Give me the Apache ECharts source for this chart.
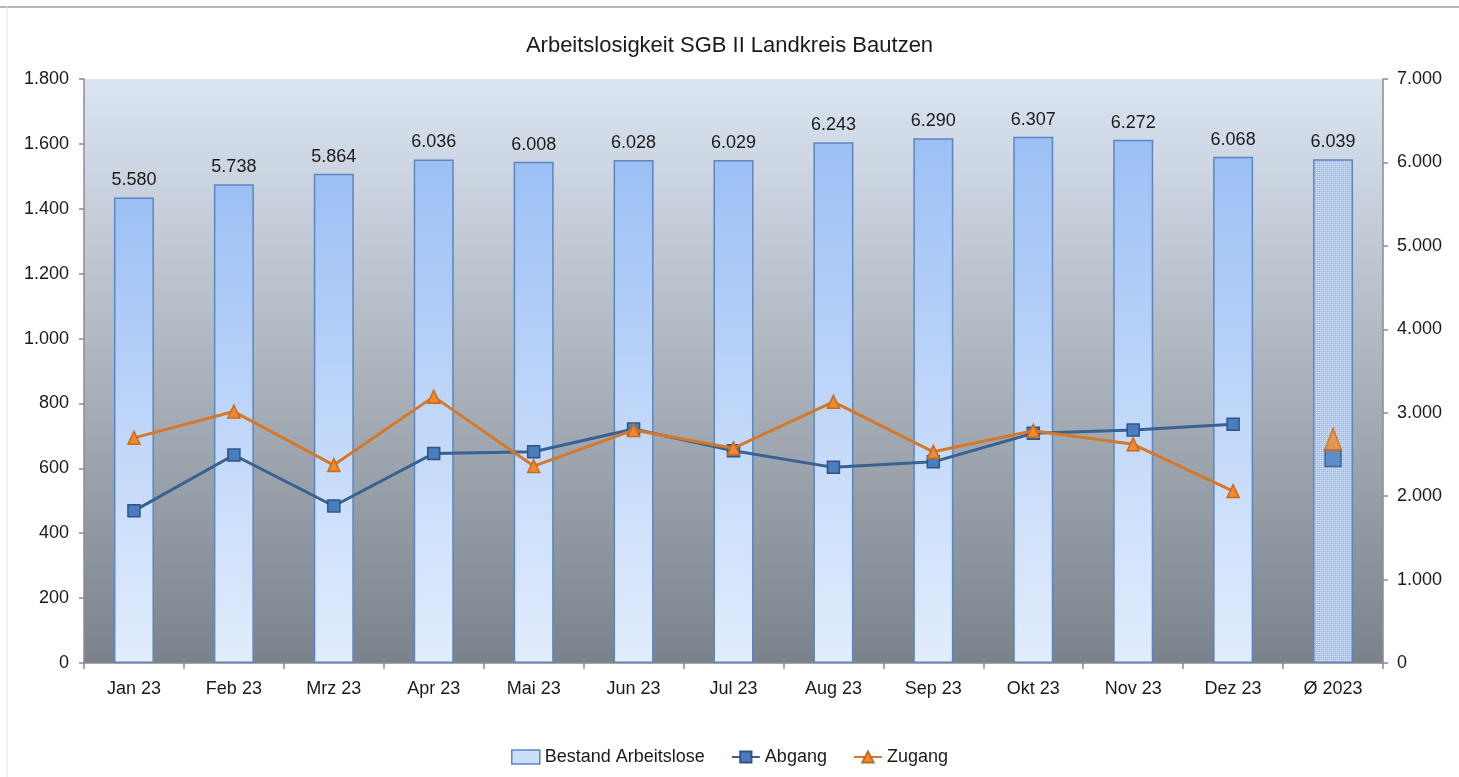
<!DOCTYPE html>
<html>
<head>
<meta charset="utf-8">
<script src="https://cdn.jsdelivr.net/npm/echarts@6/dist/echarts.min.js"></script>
<style>
html,body{margin:0;padding:0;background:#fff;}
#chart{width:1459px;height:777px;}
</style>
</head>
<body>
<div id="chart"></div>
<script>
// ---- data ----
var categories = ['Jan 23','Feb 23','Mrz 23','Apr 23','Mai 23','Jun 23','Jul 23','Aug 23','Sep 23','Okt 23','Nov 23','Dez 23','Ø 2023'];
var bestand = [5580, 5738, 5864, 6036, 6008, 6028, 6029, 6243, 6290, 6307, 6272, 6068, 6039];
var abgang = [469, 641, 484, 646, 651, 721, 654, 603, 620, 708, 718, 736];
var zugang = [694, 775, 610, 821, 607, 718, 662, 805, 651, 716, 674, 530];
var abgangAvg = 632;
var zugangAvg = 690;
var leftTicks = [0, 1800, 200];
var rightTicks = [0, 7000, 1000];

function fmt(v){ return String(v).replace(/\B(?=(\d{3})+(?!\d))/g, '.'); }

// detect a narrow font
function hasFont(name){
  var c = document.createElement('canvas').getContext('2d');
  var s = 'Arbeitslosigkeit 1.800 Jan 23';
  c.font = '40px monospace'; var w1 = c.measureText(s).width;
  c.font = '40px "' + name + '", monospace'; var w2 = c.measureText(s).width;
  c.font = '40px serif'; var w3 = c.measureText(s).width;
  c.font = '40px "' + name + '", serif'; var w4 = c.measureText(s).width;
  return w1 !== w2 || w3 !== w4;
}
var narrow = hasFont('Liberation Sans Narrow');
var font = narrow ? '"Liberation Sans Narrow", "Liberation Sans", sans-serif' : '"Liberation Sans", Arial, sans-serif';
var fsAxis = narrow ? 21 : 18;
var fsTitle = narrow ? 26 : 22;

// pattern for the average bar
var pc = document.createElement('canvas');
pc.width = 4; pc.height = 4;
var pctx = pc.getContext('2d');
pctx.fillStyle = 'rgb(172,200,236)';
pctx.fillRect(0,0,4,4);
pctx.fillStyle = 'rgb(214,228,247)';
pctx.fillRect(0,0,1,1); pctx.fillRect(2,2,1,1); pctx.fillRect(2,0,1,1); pctx.fillRect(0,2,1,1);
pctx.fillStyle = 'rgb(150,182,226)';
pctx.fillRect(1,1,1,1); pctx.fillRect(3,3,1,1);

var barGrad = new echarts.graphic.LinearGradient(0,0,0,1,[
  {offset:0,color:'rgb(156,192,245)'},
  {offset:1,color:'rgb(226,237,253)'}
]);

var barData = bestand.map(function(v,i){
  if (i === bestand.length-1) {
    return {value:v, itemStyle:{color:{image:pc, repeat:'repeat'}}};
  }
  return v;
});

var abgangLine = abgang.concat(['-']);
var zugangLine = zugang.concat(['-']);
var abgangAvgData = categories.map(function(c,i){ return i===categories.length-1 ? abgangAvg : '-'; });
var zugangAvgData = categories.map(function(c,i){ return i===categories.length-1 ? zugangAvg : '-'; });

var chart = echarts.init(document.getElementById('chart'));
chart.setOption({
  animation:false,
  backgroundColor:'#fff',
  textStyle:{fontFamily:font},
  title:{
    text:'Arbeitslosigkeit SGB II Landkreis Bautzen',
    left:'center', top:narrow ? 27 : 30,
    textStyle:{fontSize:fsTitle, fontWeight:'normal', color:'#1a1a1a', fontFamily:font}
  },
  legend:{
    bottom:narrow ? 5 : 6, left:'center',
    itemWidth:28, itemHeight:14, itemGap:26,
    textStyle:{fontSize:fsAxis, color:'#1a1a1a', fontFamily:font},
    data:[
      {name:'Bestand Arbeitslose', icon:'rect', itemStyle:{color:'rgb(205,222,250)', borderColor:'#5b86c2', borderWidth:1.5}},
      {name:'Abgang'},
      {name:'Zugang'}
    ]
  },
  graphic:[
    {type:'line', shape:{x1:0,y1:7,x2:1459,y2:7}, style:{stroke:'#a0a0a0', lineWidth:1.5}, z:-1},
    {type:'line', shape:{x1:7,y1:7,x2:7,y2:777}, style:{stroke:'#e2e2e2', lineWidth:1}, z:-1}
  ],
  grid:{
    left:84, right:76, top:79, bottom:114,
    show:true, borderWidth:0,
    backgroundColor:new echarts.graphic.LinearGradient(0,0,0,1,[
      {offset:0,color:'rgb(219,229,242)'},
      {offset:0.45,color:'rgb(176,184,194)'},
      {offset:1,color:'rgb(122,130,140)'}
    ])
  },
  xAxis:{
    type:'category', data:categories,
    axisLine:{lineStyle:{color:'#8c8c8c', width:1.5}},
    axisTick:{show:true, length:6, alignWithLabel:false, lineStyle:{color:'#8c8c8c', width:1.5}},
    axisLabel:{fontSize:fsAxis, color:'#1a1a1a', margin:17, fontFamily:font}
  },
  yAxis:[
    {
      type:'value', min:leftTicks[0], max:leftTicks[1], interval:leftTicks[2], position:'left',
      axisLine:{show:true, lineStyle:{color:'#8c8c8c', width:1.5}},
      axisTick:{show:true, length:5, lineStyle:{color:'#8c8c8c', width:1.5}},
      splitLine:{show:false},
      axisLabel:{fontSize:fsAxis, color:'#1a1a1a', margin:15, formatter:fmt, fontFamily:font}
    },
    {
      type:'value', min:rightTicks[0], max:rightTicks[1], interval:rightTicks[2], position:'right',
      axisLine:{show:true, lineStyle:{color:'#8c8c8c', width:1.5}},
      axisTick:{show:true, length:5, lineStyle:{color:'#8c8c8c', width:1.5}},
      splitLine:{show:false},
      axisLabel:{fontSize:fsAxis, color:'#1a1a1a', margin:14, formatter:fmt, fontFamily:font}
    }
  ],
  series:[
    {
      name:'Bestand Arbeitslose', type:'bar', yAxisIndex:1, barWidth:40,
      data:barData,
      itemStyle:{color:barGrad, borderColor:'#5b86c2', borderWidth:1.5},
      label:{show:true, position:'top', distance:8, fontSize:fsAxis, color:'#1a1a1a', fontFamily:font,
        formatter:function(p){return fmt(p.value);}},
      z:2
    },
    {
      name:'Abgang', type:'line', yAxisIndex:0, data:abgangLine,
      symbol:'rect', symbolSize:12,
      lineStyle:{color:'#3a6190', width:3},
      itemStyle:{color:'#4a7dbd', borderColor:'#2f5482', borderWidth:1.5},
      z:3
    },
    {
      name:'Zugang', type:'line', yAxisIndex:0, data:zugangLine,
      symbol:'triangle', symbolSize:[12,13],
      lineStyle:{color:'#d4792c', width:3},
      itemStyle:{color:'#f08a2e', borderColor:'#c8691c', borderWidth:1.5},
      z:4
    },
    {
      name:'Abgang', type:'scatter', yAxisIndex:0, data:abgangAvgData,
      symbol:'rect', symbolSize:[16,17],
      itemStyle:{color:'#4a7dbd', borderColor:'#2f5482', borderWidth:1.5},
      z:5
    },
    {
      name:'Zugang', type:'scatter', yAxisIndex:0, data:zugangAvgData,
      symbol:'triangle', symbolSize:[17,22],
      itemStyle:{color:'#f08a2e', borderColor:'#c8691c', borderWidth:1.5},
      z:6
    }
  ]
});
</script>
</body>
</html>
